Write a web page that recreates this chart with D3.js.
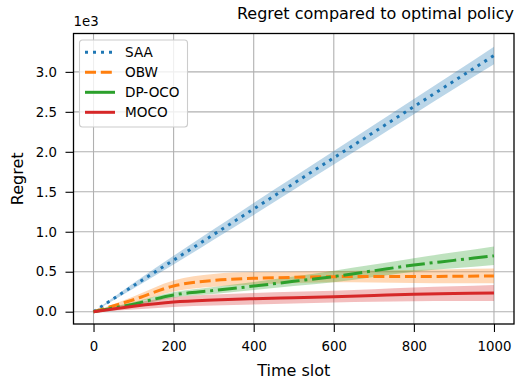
<html>
<script src="https://d3js.org/d3.v7.min.js"></script>
<style>
 body {margin:0; background:#fff;}
 text {font-family: "DejaVu Sans", sans-serif; fill:#000;}
</style>
<body>
<svg width=515 height=381></svg>
<script>
const slots = [0, 100, 200, 300, 400, 500, 600, 700, 800, 900, 1000];

const saa      = [0, 325, 645, 965, 1285, 1605, 1925, 2245, 2565, 2885, 3205];
const saaBand  = [0, 35, 55, 65, 75, 80, 85, 90, 95, 100, 110];
const obw      = [0, 150, 322, 392, 417, 430, 438, 440, 440, 443, 448];
const obwBand  = [0, 40, 68, 80, 78, 72, 70, 75, 82, 88, 92];
const dpoco    = [0, 95, 210, 265, 320, 380, 440, 512, 584, 642, 700];
const dpocoBand= [0, 25, 35, 45, 50, 60, 73, 78, 85, 100, 115];
const moco     = [0, 68, 120, 146, 163, 175, 188, 203, 217, 226, 234];
const mocoBand = [0, 40, 60, 68, 72, 73, 73, 78, 85, 92, 100];

const names = ["SAA", "OBW", "DP-OCO", "MOCO"];
const colors = ["#1f77b4", "#ff7f0e", "#2ca02c", "#d62728"];
const dashes = ["3,5", "11,4.8", "19,4.8,3,4.8", null];
const xTicks = [0, 200, 400, 600, 800, 1000];
const yTicks = [0, 500, 1000, 1500, 2000, 2500, 3000];

const series = [
  {name: names[0], vals: saa, band: saaBand},
  {name: names[1], vals: obw, band: obwBand},
  {name: names[2], vals: dpoco, band: dpocoBand},
  {name: names[3], vals: moco, band: mocoBand}
];

var pLeft = 73.5, pRight = 514, pTop = 33.5, pBottom = 324;
var svg = d3.select("svg");

var x = d3.scaleLinear().domain([-50, 1050]).range([pLeft, pRight]);
var y = d3.scaleLinear().domain([-154, 3480]).range([pBottom, pTop]);

// grid
svg.append("g").selectAll("line").data(xTicks).enter().append("line")
  .attr("x1", d => x(d)).attr("x2", d => x(d)).attr("y1", pTop).attr("y2", pBottom)
  .attr("stroke", "#b0b0b0").attr("stroke-width", 1.1);
svg.append("g").selectAll("line").data(yTicks).enter().append("line")
  .attr("y1", d => y(d)).attr("y2", d => y(d)).attr("x1", pLeft).attr("x2", pRight)
  .attr("stroke", "#b0b0b0").attr("stroke-width", 1.1);

svg.append("clipPath").attr("id", "plot")
  .append("rect").attr("x", pLeft).attr("y", pTop).attr("width", pRight-pLeft).attr("height", pBottom-pTop);

var plot = svg.append("g").attr("clip-path", "url(#plot)");

series.forEach(function(s, k) {
  var area = d3.area().curve(d3.curveMonotoneX)
    .x((d, i) => x(slots[i]))
    .y0((d, i) => y(d - s.band[i]))
    .y1((d, i) => y(d + s.band[i]));
  plot.append("path").attr("d", area(s.vals))
    .attr("fill", colors[k]).attr("opacity", 0.3);
});

series.forEach(function(s, k) {
  var line = d3.line().curve(d3.curveMonotoneX)
    .x((d, i) => x(slots[i])).y(d => y(d));
  plot.append("path").attr("d", line(s.vals))
    .attr("fill", "none").attr("stroke", colors[k]).attr("stroke-width", 3)
    .attr("stroke-dasharray", dashes[k]);
});

// axes
var xAxis = svg.append("g").attr("transform", "translate(0," + pBottom + ")")
  .call(d3.axisBottom(x).tickValues(xTicks).tickFormat(d3.format("d")).tickSize(8).tickPadding(10));
var yAxis = svg.append("g").attr("transform", "translate(" + pLeft + ",0)")
  .call(d3.axisLeft(y).tickValues(yTicks).tickFormat(d => d3.format(".1f")(d/1000)).tickSize(8).tickPadding(8.5));
[xAxis, yAxis].forEach(function(a) {
  a.select(".domain").remove();
  a.selectAll("line").attr("stroke", "#000").attr("stroke-width", 1.1);
  a.selectAll("text").style("font-size", "13.3px").attr("font-family", "DejaVu Sans").attr("fill", "#000");
});

// frame
svg.append("rect").attr("x", pLeft).attr("y", pTop).attr("width", pRight-pLeft).attr("height", pBottom-pTop)
  .attr("fill", "none").attr("stroke", "#000").attr("stroke-width", 1.3);

svg.append("text").text("1e3").attr("x", pLeft).attr("y", 25.7).style("font-size", "13.3px");
svg.append("text").text("Regret compared to optimal policy").attr("x", pRight).attr("y", 19.3)
  .attr("text-anchor", "end").style("font-size", "16px");
svg.append("text").text("Time slot").attr("x", (pLeft + pRight)/2).attr("y", 376)
  .attr("text-anchor", "middle").style("font-size", "16px");
svg.append("text").text("Regret").attr("transform", "translate(23," + ((pTop + pBottom)/2) + ") rotate(-90)")
  .attr("text-anchor", "middle").style("font-size", "16px");

// legend
var leg = svg.append("g").attr("transform", "translate(79.5,40)");
leg.append("rect").attr("width", 108).attr("height", 87).attr("rx", 3)
  .attr("fill", "#fff").attr("fill-opacity", 0.8).attr("stroke", "#ccc").attr("stroke-width", 1.1);
leg.selectAll("line").data(names).enter().append("line")
  .attr("x1", 5.5).attr("x2", 35.5)
  .attr("y1", (d, i) => 12.3 + 20*i).attr("y2", (d, i) => 12.3 + 20*i)
  .attr("stroke", (d, i) => colors[i]).attr("stroke-width", 3)
  .attr("stroke-dasharray", (d, i) => i < 2 ? dashes[i] : null);
leg.selectAll("text").data(names).enter().append("text").text(d => d)
  .attr("x", 45.5).attr("y", (d, i) => 17 + 20*i).style("font-size", "13.6px");
</script>
</body>
</html>
